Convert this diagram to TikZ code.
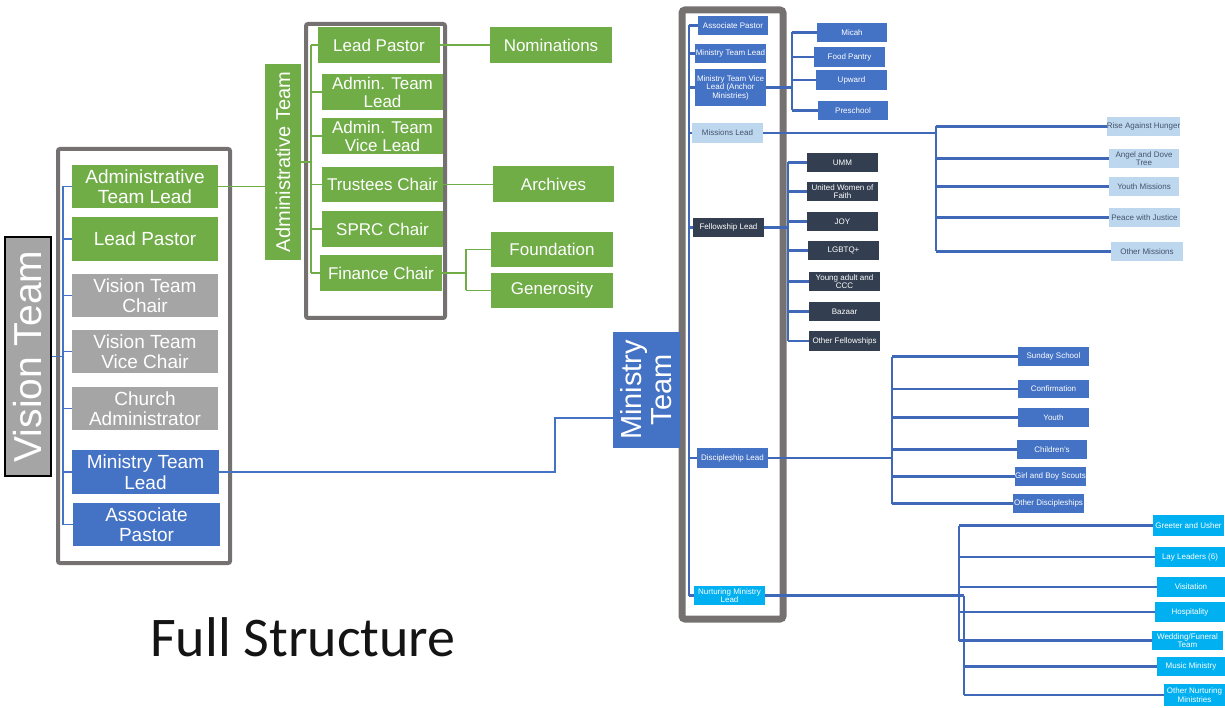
\documentclass[tikz,border=0pt]{standalone}
\usepackage{fontspec}
\setmainfont{Liberation Sans}
\newfontfamily\titlefont{Carlito}
\definecolor{cgreen}{HTML}{70AD47}
\definecolor{cgray}{HTML}{A5A5A5}
\definecolor{cblue}{HTML}{4472C4}
\definecolor{cnavy}{HTML}{333F50}
\definecolor{clight}{HTML}{BDD7EE}
\definecolor{ccyan}{HTML}{00B0F0}
\definecolor{cframe}{HTML}{767171}
\definecolor{cline}{HTML}{3F69B8}
\definecolor{ctext}{HTML}{44546A}
\newcommand\bx[7]{\node[#6, minimum width={#4-#2}, minimum height={#5-#3}] (#1) at ({(#2+#4)/2},{(#3+#5)/2}) {#7};}
\begin{document}
\begin{tikzpicture}[x=1pt,y=-1pt,
  box/.style={inner sep=0pt, align=center, text=white},
  big/.style={box, font=\fontsize{19}{20.5}\selectfont},
  mid/.style={box, font=\fontsize{17}{18}\selectfont},
  sm/.style={box, font=\fontsize{8}{8.5}\selectfont},
  gbox/.style={fill=cgreen},
  graybox/.style={fill=cgray},
  bbox/.style={fill=cblue},
  nbox/.style={fill=cnavy},
  lbox/.style={fill=clight, text=ctext},
  cbox/.style={fill=ccyan},
  frame/.style={draw=cframe, line width=4pt, rounded corners=2pt},
  vline/.style={draw=cblue, line width=1.3pt},
  gline/.style={draw=cgreen, line width=1.3pt},
  mline/.style={draw=cline, line width=2.4pt}]
\useasboundingbox (0,0) rectangle (1225,708);

% ---------------- Vision Team ----------------
\draw[frame] (58,149) rectangle (230,563);
\node[box, rotate=90, fill=cgray, draw=black, line width=1.5pt, minimum width=239, minimum height=46,
  font=\fontsize{39}{40}\selectfont] (vt) at (28,356.5) {Vision Team};
\bx{vatl}{72}{165}{218}{208}{big,gbox}{Administrative\\Team Lead}
\bx{vlp}{72}{217}{218}{261}{big,gbox}{Lead Pastor}
\bx{vvc}{72}{274}{218}{317}{big,graybox}{Vision Team\\Chair}
\bx{vvvc}{72}{330}{218}{373}{big,graybox}{Vision Team\\Vice Chair}
\bx{vca}{72}{387}{218}{430}{big,graybox}{Church\\Administrator}
\bx{vmtl}{72}{450}{219}{494}{big,bbox}{Ministry Team\\Lead}
\bx{vap}{73}{503}{220}{546}{big,bbox}{Associate\\Pastor}
\coordinate (vbus) at (63,0);
\draw[vline] (vbus |- vatl.west) -- (vbus |- vap.west);
\draw[vline] (vt.south) -- (vt.south -| vbus);
\foreach \n in {vatl,vlp,vvc,vvvc,vca,vmtl,vap} \draw[vline] (vbus |- \n.west) -- (\n.west);

% ---------------- Administrative Team ----------------
\draw[frame] (306,24) rectangle (445,318);
\node[box, rotate=90, fill=cgreen, minimum width=196, minimum height=36,
  font=\fontsize{20}{21}\selectfont] (at) at (283,162) {Administrative Team};
\draw[gline] (vatl.east) -- (vatl.east -| at.north);
\bx{alp}{318}{27}{440}{63}{mid,gbox}{Lead Pastor}
\bx{atl}{322}{74}{443}{110}{mid,gbox}{Admin. Team\\Lead}
\bx{avl}{322}{118}{443}{154}{mid,gbox}{Admin. Team\\Vice Lead}
\bx{atc}{322}{167}{443}{202}{mid,gbox}{Trustees Chair}
\bx{asp}{322}{211}{443}{247}{mid,gbox}{SPRC Chair}
\bx{afc}{320}{255}{442}{291}{mid,gbox}{Finance Chair}
\bx{anom}{490}{27}{612}{63}{mid,gbox}{Nominations}
\bx{aarc}{493}{166}{614}{202}{mid,gbox}{Archives}
\bx{afnd}{491}{232}{613}{267}{mid,gbox}{Foundation}
\bx{agen}{491}{273}{613}{308}{mid,gbox}{Generosity}
\coordinate (abus) at (311,0);
\draw[gline] (abus |- alp.west) -- (abus |- afc.west);
\draw[gline] (at.south) -- (at.south -| abus);
\foreach \n in {alp,atl,avl,atc,asp,afc} \draw[gline] (abus |- \n.west) -- (\n.west);
\draw[gline] (alp.east) -- (anom.west);
\draw[gline] (atc.east) -- (atc.east -| aarc.west);
\coordinate (fbus) at (466,0);
\draw[gline] (afc.east) -- (afc.east -| fbus);
\draw[gline] (fbus |- afnd.west) -- (fbus |- agen.west);
\draw[gline] (fbus |- afnd.west) -- (afnd.west);
\draw[gline] (fbus |- agen.west) -- (agen.west);

% ---------------- Ministry Team ----------------
\draw[cframe, line width=7pt, rounded corners=3pt] (682,10) rectangle (783,619);
\node[box, rotate=90, fill=cblue, minimum width=116, minimum height=67,
  font=\fontsize{29}{30}\selectfont] (mt) at (646.5,390) {Ministry\\Team};
\coordinate (mtk) at (555,418);
\draw[vline] (vmtl.east) -| (mtk) -- (mtk -| mt.north);

\bx{map}{698}{16}{768}{35}{sm,bbox}{Associate Pastor}
\bx{mmtl}{695}{44}{766}{63}{sm,bbox}{Ministry Team Lead}
\bx{mvl}{695}{69}{766}{106}{sm,bbox}{Ministry Team Vice\\Lead (Anchor\\Ministries)}
\bx{mml}{692}{123}{763}{143}{sm,lbox}{Missions Lead}
\bx{mfl}{693}{218}{764}{237}{sm,nbox}{Fellowship Lead}
\bx{mdl}{697}{448}{768}{468}{sm,bbox}{Discipleship Lead}
\bx{mnl}{694}{586}{765}{605}{sm,cbox}{Nurturing Ministry\\Lead}
\coordinate (mbus) at (689,0);
\draw[mline] (mbus |- map.west) -- (mbus |- mnl.west);
\foreach \n in {map,mmtl,mvl,mml,mfl,mdl,mnl} \draw[mline] (mbus |- \n.west) -- (\n.west);

% Anchor ministries
\bx{amic}{817}{23}{887}{42}{sm,bbox}{Micah}
\bx{afp}{814}{47}{885}{67}{sm,bbox}{Food Pantry}
\bx{aup}{816}{70}{887}{90}{sm,bbox}{Upward}
\bx{apre}{818}{101}{888}{120}{sm,bbox}{Preschool}
\coordinate (anbus) at (792,0);
\draw[mline] (mvl.east) -- (mvl.east -| anbus);
\draw[mline] (anbus |- amic.west) -- (anbus |- apre.west);
\foreach \n in {amic,afp,aup,apre} \draw[mline] (anbus |- \n.west) -- (\n.west);

% Missions
\bx{rah}{1108}{117}{1179}{136}{sm,lbox}{Rise Against Hunger}
\bx{adt}{1109}{149}{1179}{168}{sm,lbox}{Angel and Dove\\Tree}
\bx{ym}{1109}{177}{1179}{196}{sm,lbox}{Youth Missions}
\bx{pwj}{1109}{208}{1180}{227}{sm,lbox}{Peace with Justice}
\bx{om}{1111}{242}{1183}{261}{sm,lbox}{Other Missions}
\coordinate (msbus) at (936,0);
\draw[mline] (mml.east) -- (mml.east -| msbus);
\draw[mline] (msbus |- rah.west) -- (msbus |- om.west);
\foreach \n in {rah,adt,ym,pwj,om} \draw[mline] (msbus |- \n.west) -- (\n.west);

% Fellowship
\bx{umm}{807}{153}{878}{172}{sm,nbox}{UMM}
\bx{uwf}{807}{182}{878}{201}{sm,nbox}{United Women of\\Faith}
\bx{joy}{807}{212}{878}{231}{sm,nbox}{JOY}
\bx{lgb}{808}{241}{879}{260}{sm,nbox}{LGBTQ+}
\bx{yac}{809}{272}{880}{291}{sm,nbox}{Young adult and\\CCC}
\bx{baz}{809}{302}{880}{321}{sm,nbox}{Bazaar}
\bx{ofe}{809}{331}{880}{351}{sm,nbox}{Other Fellowships}
\coordinate (fsbus) at (788,0);
\draw[mline] (mfl.east) -- (mfl.east -| fsbus);
\draw[mline] (fsbus |- umm.west) -- (fsbus |- ofe.west);
\foreach \n in {umm,uwf,joy,lgb,yac,baz,ofe} \draw[mline] (fsbus |- \n.west) -- (\n.west);

% Discipleship
\bx{ss}{1018}{347}{1089}{366}{sm,bbox}{Sunday School}
\bx{conf}{1018}{380}{1089}{398}{sm,bbox}{Confirmation}
\bx{yth}{1018}{408}{1089}{427}{sm,bbox}{Youth}
\bx{chi}{1017}{440}{1087}{459}{sm,bbox}{Children's}
\bx{gbs}{1015}{467}{1086}{486}{sm,bbox}{Girl and Boy Scouts}
\bx{odi}{1013}{494}{1084}{513}{sm,bbox}{Other Discipleships}
\coordinate (dsbus) at (892,0);
\draw[mline] (mdl.east) -- (mdl.east -| dsbus);
\draw[mline] (dsbus |- ss.west) -- (dsbus |- odi.west);
\foreach \n in {ss,conf,yth,chi,gbs,odi} \draw[mline] (dsbus |- \n.west) -- (\n.west);

% Nurturing
\bx{gu}{1153}{515}{1224}{536}{sm,cbox}{Greeter and Usher}
\bx{ll}{1155}{547}{1225}{567}{sm,cbox}{Lay Leaders (6)}
\bx{vis}{1157}{577}{1225}{597}{sm,cbox}{Visitation}
\bx{hos}{1155}{602}{1225}{622}{sm,cbox}{Hospitality}
\bx{wf}{1152}{631}{1223}{650}{sm,cbox}{Wedding/Funeral\\Team}
\bx{mm}{1157}{657}{1225}{676}{sm,cbox}{Music Ministry}
\bx{onm}{1164}{684}{1225}{706}{sm,cbox}{Other Nurturing\\Ministries}
\coordinate (nbusa) at (959,0);
\coordinate (nbusb) at (964,0);
\draw[mline] (mnl.east) -- (mnl.east -| nbusb);
\draw[mline] (nbusa |- gu.west) -- (nbusa |- wf.west);
\draw[mline] (nbusb |- mnl.east) -- (nbusb |- onm.west);
\foreach \n in {gu,ll,vis,hos,wf} \draw[mline] (nbusa |- \n.west) -- (\n.west);
\foreach \n in {mm,onm} \draw[mline] (nbusb |- \n.west) -- (\n.west);

% Title
\node[font=\titlefont\fontsize{56}{60}\selectfont, text=black!92] (title) at (303,637) {Full Structure};
\end{tikzpicture}
\end{document}
